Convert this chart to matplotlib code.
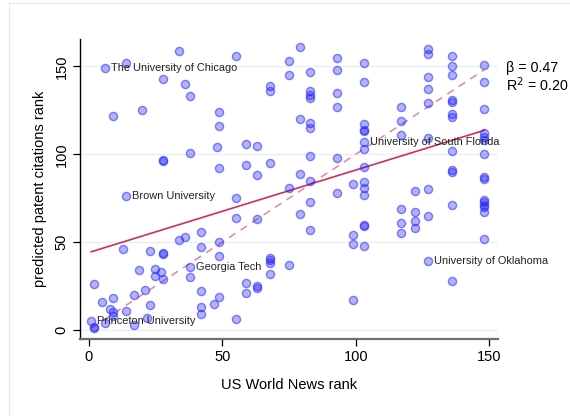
import numpy as np
import matplotlib
matplotlib.use("Agg")
import matplotlib.pyplot as plt
from matplotlib.patches import Rectangle

plt.rcParams['font.family'] = ['Liberation Sans', 'DejaVu Sans']

# US News rank vs. predicted patent-citation rank, one point per university
us_news_rank = [
    6, 103, 14, 38, 127, 1,
    34, 14, 28, 36, 38, 20, 9, 49, 49, 48, 38, 28, 28, 49,
    55, 79, 75, 93, 83, 75, 93, 68, 68, 83, 83, 83, 93, 93, 79, 83, 83, 59, 63, 83, 93, 59, 63, 68, 79, 83,
    103, 103, 127, 127, 136, 136, 136, 148, 148, 127, 127, 127, 117, 117, 117, 136, 136, 136, 136, 148,
    148, 148, 148, 103, 103, 103, 103, 103, 127, 136, 136, 136, 148, 148, 148,
    99, 103, 103, 103, 122, 127, 136, 148, 148, 148, 148, 148, 117, 122, 127, 117, 122, 122, 117, 103,
    103, 99, 99, 103, 148, 136, 99,
    75, 93, 55, 83, 79, 55, 63, 83, 49, 49, 68, 68, 68, 75, 68, 59, 63, 63, 59, 49, 47, 55,
    42, 36, 34, 42, 13, 23, 28, 28, 19, 25, 27, 25, 28, 38, 2, 21, 17, 9, 5, 42, 23, 14, 8, 9, 9,
    42, 42, 22, 17, 6, 2, 2,
]
patent_rank = [
    149, 107, 76, 36, 39, 5,
    159, 152, 143, 140, 133, 125, 122, 124, 116, 104, 101, 97, 96, 92,
    156, 161, 153, 155, 147, 145, 148, 139, 136, 136, 134, 132, 135, 127, 120, 118, 115, 106, 105, 99, 98, 94, 88, 95, 89, 85,
    152, 141, 160, 157, 156, 150, 145, 151, 141, 144, 137, 129, 127, 119, 111, 131, 130, 123, 121, 126,
    112, 110, 108, 117, 114, 113, 103, 93, 109, 102, 91, 90, 100, 87, 86,
    83, 84, 81, 77, 79, 80, 71, 74, 73, 71, 70, 67, 69, 67, 65, 61, 62, 58, 55, 60,
    59, 54, 49, 48, 52, 28, 17,
    81, 78, 75, 73, 66, 64, 63, 57, 50, 42, 41, 40, 38, 37, 32, 27, 25, 24, 21, 19, 15, 6,
    56, 53, 51, 47, 46, 45, 44, 43, 34, 35, 33, 31, 29, 30, 26, 23, 20, 18, 16, 22, 14, 11, 12, 10, 8,
    13, 9, 7, 3, 4, 2, 1,
]

# Named universities (first six entries above)
label_names = ["The University of Chicago", "University of South Florida", "Brown University",
               "Georgia Tech", "University of Oklahoma", "Princeton University"]

beta = 0.47
r_squared = 0.20

x = np.array(us_news_rank, dtype=float)
y = np.array(patent_rank, dtype=float)

fig = plt.figure(figsize=(5.70, 4.16), dpi=100)
fig.patch.set_facecolor("white")

# light outer frame of the graph region
fig.add_artist(Rectangle((9 / 570, -0.05), 1.2, 1.05 - 3 / 416, transform=fig.transFigure,
                         fill=False, edgecolor="#e6e8e8", linewidth=0.8))

ax = fig.add_axes([79.5 / 570, 77 / 416, (498 - 79.5) / 570, (339 - 39) / 416])
ax.set_xlim(-3.37, 153.2)
ax.set_ylim(-5.1, 165.6)

ax.set_yticks([0, 50, 100, 150])
ax.set_xticks([0, 50, 100, 150])
ax.grid(axis="y", color="#eaf0f0", linewidth=1.0)
ax.set_axisbelow(True)

for side in ("top", "right"):
    ax.spines[side].set_visible(False)
ax.spines["left"].set_color("black")
ax.spines["left"].set_linewidth(1.0)
ax.spines["bottom"].set_color("#6e6e6e")
ax.spines["bottom"].set_linewidth(1.6)

ax.tick_params(axis="both", length=5, width=0.9, color="black", labelsize=10.5, pad=3)
for lab in ax.get_yticklabels():
    lab.set_rotation(90)
    lab.set_va("center")

# scatter
ax.scatter(x, y, s=34, facecolor=(0.0, 0.0, 1.0, 0.3), edgecolor=(0.2, 0.2, 1.0, 0.6),
           linewidth=1.0, zorder=3)

# 45-degree reference and fitted line
xs = np.array([x.min(), x.max()])
ax.plot(xs, xs, linestyle=(0, (5, 4)), color="#e0879f", linewidth=1.1, zorder=2)
intercept = y.mean() - beta * x.mean()
ax.plot(xs, intercept + beta * xs, color="#cf2e5c", linewidth=1.2, zorder=2)

# university labels
for name, xi, yi in zip(label_names, x[:6], y[:6]):
    ax.annotate(name, (xi, yi), xytext=(4.5, 0), textcoords="offset points",
                fontsize=7.9, va="center", ha="left", color="#222222", zorder=4)

ax.set_xlabel("US World News rank", fontsize=10.5, labelpad=10)
ax.set_ylabel("predicted patent citations rank", fontsize=10.5, labelpad=5)

fig.text(506 / 570, 1 - 68 / 416, f"\u03b2 = {beta:.2f}", fontsize=10.3, va="center", ha="left")
fig.text(506 / 570, 1 - 85 / 416, f"R$^2$ = {r_squared:.2f}", fontsize=10.3, va="center", ha="left")

fig.savefig("out.png", dpi=100, facecolor="white")
